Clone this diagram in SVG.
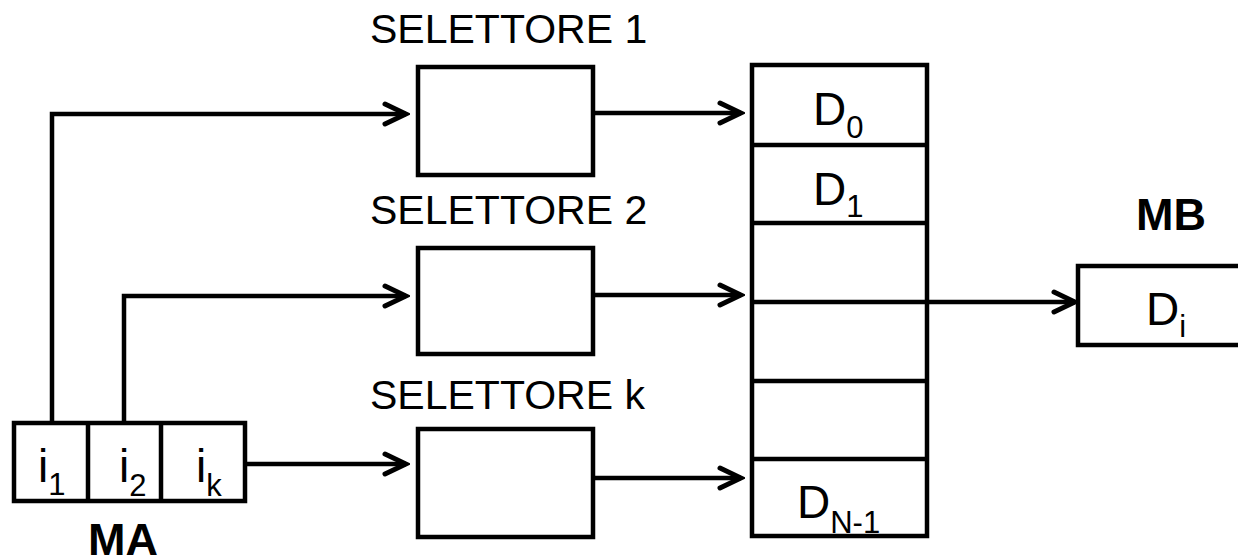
<svg xmlns="http://www.w3.org/2000/svg" width="1238" height="559" viewBox="0 0 1238 559">
<style>
.box{fill:#fff;stroke:#000;stroke-width:4.5}
.ln{fill:none;stroke:#000;stroke-width:4.5}
.con{fill:none;stroke:#000;stroke-width:4.5;marker-end:url(#arr)}
text{font-family:"Liberation Sans",Arial,sans-serif;fill:#000}
.lab{font-size:41px}
.big{font-size:46px}
.sub{font-size:31px}
.bold{font-size:45px;font-weight:bold}
</style>
<defs>
<marker id="arr" markerUnits="userSpaceOnUse" viewBox="-26 -14 30 28" markerWidth="30" markerHeight="28" refX="0" refY="0" orient="auto">
<path d="M-21,-10 L0,0 L-21,10" fill="none" stroke="#000" stroke-width="5" stroke-linecap="round" stroke-linejoin="miter"/>
</marker>
</defs>
<g id="connectors">
<path class="con" d="M52,423 V114 H406"/>
<path class="con" d="M124,423 V296 H406"/>
<path class="con" d="M245,464 H406"/>
<path class="con" d="M593,113 H741"/>
<path class="con" d="M593,295 H741"/>
<path class="con" d="M593,478 H741"/>
<path class="con" d="M927,302 H1075"/>
</g>
<g id="sel1">
<rect class="box" x="418" y="67" width="175" height="108"/>
<text class="lab" x="370" y="43">SELETTORE 1</text>
</g>
<g id="sel2">
<rect class="box" x="418" y="248" width="175" height="106"/>
<text class="lab" x="370" y="224">SELETTORE 2</text>
</g>
<g id="selk">
<rect class="box" x="418" y="429" width="175" height="108"/>
<text class="lab" x="370" y="409">SELETTORE k</text>
</g>
<g id="memory">
<rect class="box" x="752" y="65" width="175" height="471"/>
<path class="ln" d="M752,145 H927 M752,223 H927 M752,302 H927 M752,381 H927 M752,459 H927"/>
<text class="big" x="813" y="125">D<tspan class="sub" dy="13">0</tspan></text>
<text class="big" x="813" y="205">D<tspan class="sub" dy="12">1</tspan></text>
<text class="big" x="797" y="518">D<tspan class="sub" dy="15">N-1</tspan></text>
</g>
<g id="ma">
<rect class="box" x="14" y="423" width="231" height="78"/>
<path class="ln" d="M88,423 V501 M161,423 V501"/>
<text class="big" x="38" y="482">i<tspan class="sub" dy="13">1</tspan></text>
<text class="big" x="119" y="482">i<tspan class="sub" dy="14">2</tspan></text>
<text class="big" x="196" y="482">i<tspan class="sub" dy="14">k</tspan></text>
<text class="bold" x="123" y="555" text-anchor="middle">MA</text>
</g>
<g id="mb">
<rect class="box" x="1078" y="266" width="175" height="79"/>
<text class="big" x="1146" y="325">D<tspan class="sub" dy="12">i</tspan></text>
<text class="bold" x="1171" y="230" text-anchor="middle">MB</text>
</g>
</svg>
